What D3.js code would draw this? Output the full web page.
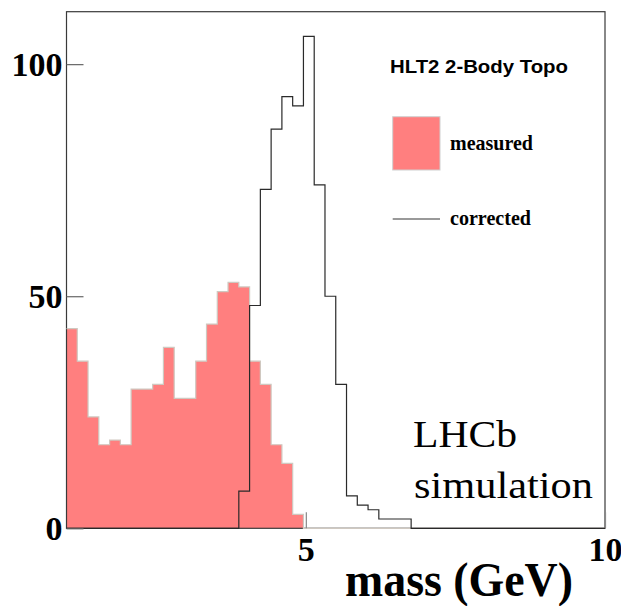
<!DOCTYPE html>
<html>
<head>
<meta charset="utf-8">
<script src="https://cdn.jsdelivr.net/npm/d3@7"></script>
<style>
  html, body { margin: 0; padding: 0; background: #fff; }
  svg { display: block; }
</style>
</head>
<body>
<svg id="chart" width="621" height="606"></svg>
<script>
// Histogram binning: 50 equal bins between 1 and 10 GeV
const xMin = 1;
const xMax = 10;
const nBins = 50;

// Entries per bin, measured mass
const measured = [
  43, 36, 24, 18, 19, 18, 30, 30, 31, 39,
  28, 28, 36, 44, 51, 53, 52, 36, 31, 18,
  14, 3, 0, 0, 0, 0, 0, 0, 0, 0,
  0, 0, 0, 0, 0, 0, 0, 0, 0, 0,
  0, 0, 0, 0, 0, 0, 0, 0, 0, 0
];

// Entries per bin, corrected mass
const corrected = [
  0, 0, 0, 0, 0, 0, 0, 0, 0, 0,
  0, 0, 0, 0, 0, 0, 8, 48, 73, 86,
  93, 91, 106, 74, 50, 31, 7, 5, 4, 2,
  2, 2, 0, 0, 0, 0, 0, 0, 0, 0,
  0, 0, 0, 0, 0, 0, 0, 0, 0, 0
];

const xTicks = [5, 10];
const yTicks = [0, 50, 100];
const yMax = 111.3;

const legendTitle = "HLT2 2-Body Topo";
const legendLabels = ["measured", "corrected"];
const xTitle = "mass (GeV)";
const tagLines = ["LHCb", "simulation"];

const fillColor = "#ff7f7f";

const svg = d3.select("#chart");
const plot = { left: 66.5, right: 605, top: 11.7, bottom: 528.3 };

const x = d3.scaleLinear().domain([xMin, xMax]).range([plot.left, plot.right]);
const y = d3.scaleLinear().domain([0, yMax]).range([plot.bottom, plot.top]);

const binWidth = (xMax - xMin) / nBins;
const bins = d3.range(nBins).map(i => ({ lo: xMin + i * binWidth, hi: xMin + (i + 1) * binWidth }));

// Points tracing the top of a histogram as a step outline
function stepPoints(values) {
  const pts = [];
  values.forEach((v, i) => {
    pts.push([x(bins[i].lo), y(v)]);
    pts.push([x(bins[i].hi), y(v)]);
  });
  return pts;
}

const line = d3.line();

// Measured histogram: filled area
const area = d3.area()
  .x(d => d[0])
  .y0(y(0))
  .y1(d => d[1]);
svg.append("path")
  .attr("d", area(stepPoints(measured)))
  .attr("fill", fillColor)
  .attr("stroke", "none");

// Frame
svg.append("rect")
  .attr("x", plot.left)
  .attr("y", plot.top)
  .attr("width", plot.right - plot.left)
  .attr("height", plot.bottom - plot.top)
  .attr("fill", "none")
  .attr("stroke", "#3a3a3a")
  .attr("stroke-width", 1.2);

// Measured histogram outline
svg.append("path")
  .attr("d", line(stepPoints(measured)))
  .attr("fill", "none")
  .attr("stroke", "#cfc8c0")
  .attr("stroke-width", 1.2);

// Corrected histogram outline
const corrPts = [[x(xMin), y(0)], ...stepPoints(corrected), [x(xMax), y(0)]];
svg.append("path")
  .attr("d", line(corrPts))
  .attr("fill", "none")
  .attr("stroke", "#2a2a2a")
  .attr("stroke-width", 1.2);

// Axes with inward ticks
const yAxis = d3.axisLeft(y)
  .tickValues(yTicks)
  .tickFormat(d3.format("d"))
  .tickSizeInner(-17)
  .tickSizeOuter(0)
  .tickPadding(4);
const gy = svg.append("g")
  .attr("transform", `translate(${plot.left},0)`)
  .call(yAxis);
gy.select(".domain").remove();
gy.selectAll(".tick line").attr("stroke", "#666").attr("stroke-width", 1.2);
gy.selectAll(".tick text")
  .attr("font-family", "'Liberation Serif', 'Times New Roman', serif")
  .attr("font-weight", "bold")
  .attr("font-size", 34)
  .attr("fill", "#000");

const xAxis = d3.axisBottom(x)
  .tickValues(xTicks)
  .tickFormat(d3.format("d"))
  .tickSizeInner(-16)
  .tickSizeOuter(0)
  .tickPadding(9);
const gx = svg.append("g")
  .attr("transform", `translate(0,${plot.bottom})`)
  .call(xAxis);
gx.select(".domain").remove();
gx.selectAll(".tick line").attr("stroke", "#888").attr("stroke-width", 1.2);
gx.selectAll(".tick text")
  .attr("font-family", "'Liberation Serif', 'Times New Roman', serif")
  .attr("font-weight", "bold")
  .attr("font-size", 34)
  .attr("fill", "#000");

// X axis title
svg.append("text")
  .attr("x", 345)
  .attr("y", 596)
  .attr("textLength", 228)
  .attr("lengthAdjust", "spacingAndGlyphs")
  .attr("font-family", "'Liberation Serif', 'Times New Roman', serif")
  .attr("font-weight", "bold")
  .attr("font-size", 48)
  .attr("fill", "#000")
  .text(xTitle);

// Legend
const legend = svg.append("g");
legend.append("text")
  .attr("x", 390)
  .attr("y", 73.3)
  .attr("textLength", 178)
  .attr("lengthAdjust", "spacingAndGlyphs")
  .attr("font-family", "'Liberation Sans', Arial, sans-serif")
  .attr("font-weight", "bold")
  .attr("font-size", 18)
  .attr("fill", "#000")
  .text(legendTitle);

legend.append("rect")
  .attr("x", 392.7)
  .attr("y", 116.7)
  .attr("width", 47.3)
  .attr("height", 53.3)
  .attr("fill", fillColor)
  .attr("stroke", "#d0d0d0")
  .attr("stroke-width", 1);

legend.append("line")
  .attr("x1", 392.7)
  .attr("x2", 440)
  .attr("y1", 219)
  .attr("y2", 219)
  .attr("stroke", "#777")
  .attr("stroke-width", 1.5);

const legendY = [150, 225];
const legendW = [83, 81];
legendLabels.forEach((lab, i) => {
  legend.append("text")
    .attr("x", 450)
    .attr("y", legendY[i])
    .attr("textLength", legendW[i])
    .attr("lengthAdjust", "spacingAndGlyphs")
    .attr("font-family", "'Liberation Serif', 'Times New Roman', serif")
    .attr("font-weight", "bold")
    .attr("font-size", 22)
    .attr("fill", "#000")
    .text(lab);
});

// Experiment tag
const tagX = [413, 414];
const tagY = [447, 498];
const tagW = [104, 179];
tagLines.forEach((t, i) => {
  svg.append("text")
    .attr("x", tagX[i])
    .attr("y", tagY[i])
    .attr("textLength", tagW[i])
    .attr("lengthAdjust", "spacingAndGlyphs")
    .attr("font-family", "'Liberation Serif', 'Times New Roman', serif")
    .attr("font-size", 38)
    .attr("fill", "#000")
    .text(t);
});
</script>
</body>
</html>
